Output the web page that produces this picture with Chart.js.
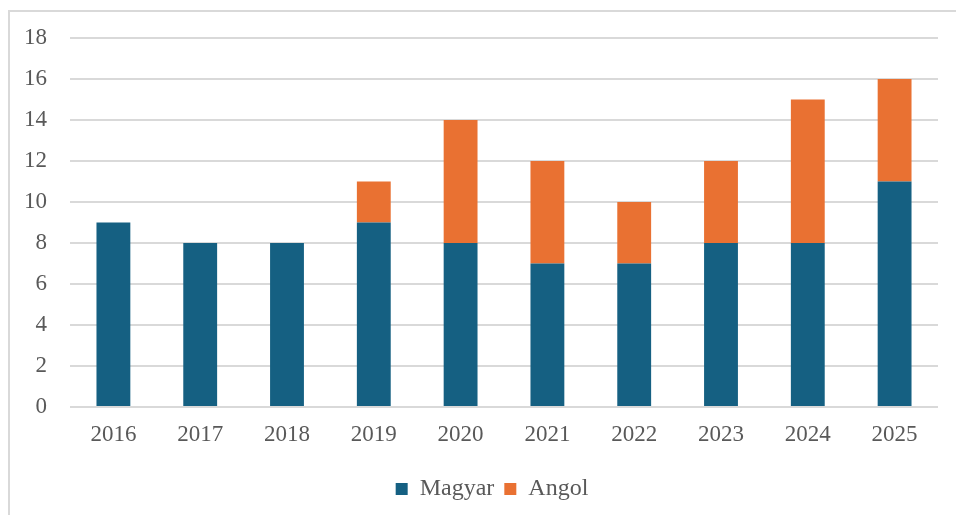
<!DOCTYPE html>
<html>
<head>
<meta charset="utf-8">
<script src="https://cdn.jsdelivr.net/npm/chart.js@4"></script>
<style>
    html, body { margin: 0; padding: 0; background: #fff; }
    #wrap { position: relative; width: 956px; height: 515px; overflow: hidden; }
    #frame { position: absolute; left: 8px; top: 10px; width: 960px; height: 520px; border: 2px solid #d9d9d9; box-sizing: border-box; }
    canvas { position: absolute; left: 0; top: 0; }
</style>
</head>
<body>
<div id="wrap">
    <div id="frame"></div>
    <canvas id="myChart" width="956" height="515"></canvas>
</div>
<script>
// data
const years = ["2016", "2017", "2018", "2019", "2020", "2021", "2022", "2023", "2024", "2025"];
const magyar = [9, 8, 8, 9, 8, 7, 7, 8, 8, 11];
const angol = [0, 0, 0, 2, 6, 5, 3, 4, 7, 5];

const textColor = "#595959";
const gridColor = "#d9d9d9";
const serif = "'Liberation Serif', 'Times New Roman', serif";

// nudge the legend so it sits centred under the plot, like the original
const legendShift = {
    id: 'legendShift',
    afterLayout(chart) {
        const lg = chart.legend;
        if (lg) {
            lg.left += 18;
            lg.right += 18;
        }
    }
};

var ctx = document.getElementById('myChart').getContext('2d');
var myChart = new Chart(ctx, {
    type: 'bar',
    data: {
        labels: years,
        datasets: [{
            label: "Magyar",
            data: magyar,
            backgroundColor: "#156082",
            borderWidth: 0,
            barPercentage: 0.39,
            categoryPercentage: 1
        }, {
            label: "Angol",
            data: angol,
            backgroundColor: "#E97132",
            borderWidth: 0,
            barPercentage: 0.39,
            categoryPercentage: 1
        }]
    },
    plugins: [legendShift],
    options: {
        responsive: false,
        animation: false,
        layout: {
            padding: { top: 38, left: 10, right: 18, bottom: 4 }
        },
        scales: {
            x: {
                stacked: true,
                grid: { display: false, drawTicks: false },
                border: { display: false },
                ticks: { color: textColor, font: { family: serif, size: 23 }, padding: 14 },
                afterFit: function (scale) { scale.height = 60; }
            },
            y: {
                stacked: true,
                min: 0,
                max: 18,
                grid: { color: gridColor, lineWidth: 2, drawTicks: false },
                border: { display: false },
                ticks: { stepSize: 2, color: textColor, font: { family: serif, size: 23 }, padding: 23 },
                afterFit: function (scale) { scale.width = 60; }
            }
        },
        plugins: {
            legend: {
                position: 'bottom',
                labels: {
                    color: textColor,
                    font: { family: serif, size: 24 },
                    boxWidth: 12,
                    boxHeight: 12,
                    padding: 10
                }
            },
            tooltip: { enabled: false }
        }
    }
});
</script>
</body>
</html>
